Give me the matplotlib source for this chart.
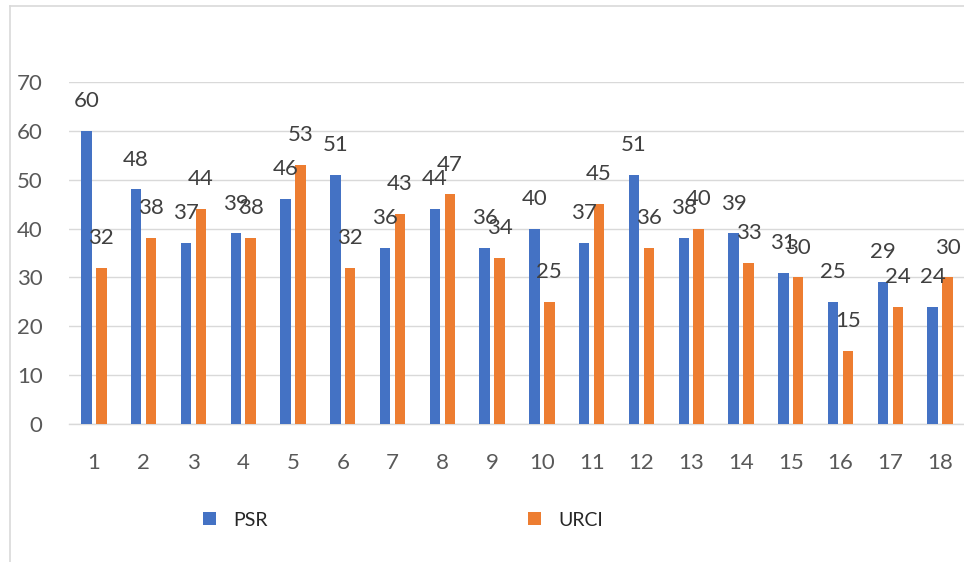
import matplotlib
matplotlib.use("Agg")
import matplotlib.pyplot as plt
from matplotlib.lines import Line2D
import numpy as np

categories = [str(i) for i in range(1, 19)]
psr = [60, 48, 37, 39, 46, 51, 36, 44, 36, 40, 37, 51, 38, 39, 31, 25, 29, 24]
urci = [32, 38, 44, 38, 53, 32, 43, 47, 34, 25, 45, 36, 40, 33, 30, 15, 24, 30]
series_names = ["PSR", "URCI"]
yticks = [0, 10, 20, 30, 40, 50, 60, 70]

plt.rcParams['font.family'] = ['Lato', 'DejaVu Sans']

W, H = 964, 562
fig = plt.figure(figsize=(W / 100, H / 100), dpi=100)
ax = fig.add_axes([69 / W, (H - 424) / H, 896 / W, (424 - 82) / H])

x = np.arange(len(categories))
bw = 0.21
off = 0.15
b1 = ax.bar(x - off, psr, bw, color="#4472C4", label=series_names[0], zorder=3)
b2 = ax.bar(x + off, urci, bw, color="#ED7D31", label=series_names[1], zorder=3)

for bars, vals in ((b1, psr), (b2, urci)):
    for rect, v in zip(bars, vals):
        ax.annotate(str(v), (rect.get_x() + rect.get_width() / 2, v),
                    xytext=(0, 21.5), textcoords="offset points",
                    ha="center", va="center", fontsize=16, color="#404040", zorder=4)

ax.set_xlim(-0.5, len(categories) - 0.5)
ax.set_ylim(0, 70)
ax.set_yticks(yticks)
ax.set_xticks(x)
ax.set_xticklabels(categories)
ax.yaxis.grid(True, color="#d9d9d9", linewidth=1.0, zorder=0)
ax.set_axisbelow(True)
for s in ["top", "right", "left"]:
    ax.spines[s].set_visible(False)
ax.spines["bottom"].set_color("#d9d9d9")
ax.spines["bottom"].set_linewidth(1.0)
ax.tick_params(axis="both", length=0, labelsize=16, labelcolor="#595959")
ax.tick_params(axis="y", pad=19)
ax.tick_params(axis="x", pad=21)

# legends
fig.legend(handles=[b1], loc="center left", bbox_to_anchor=(203 / W, (H - 520) / H),
           frameon=False, fontsize=14, handlelength=0.65, handleheight=0.65,
           handletextpad=0.9, borderpad=0, borderaxespad=0, labelcolor="#262626")
fig.legend(handles=[b2], loc="center left", bbox_to_anchor=(528 / W, (H - 520) / H),
           frameon=False, fontsize=14, handlelength=0.65, handleheight=0.65,
           handletextpad=0.9, borderpad=0, borderaxespad=0, labelcolor="#262626")

# chart border
fig.add_artist(Line2D([10 / W, 10 / W], [0, (H - 6) / H], transform=fig.transFigure,
                      color="#d9d9d9", linewidth=1.2))
fig.add_artist(Line2D([10 / W, 1], [(H - 6) / H, (H - 6) / H], transform=fig.transFigure,
                      color="#d9d9d9", linewidth=1.2))

fig.savefig("out.png", dpi=100, facecolor="white")
